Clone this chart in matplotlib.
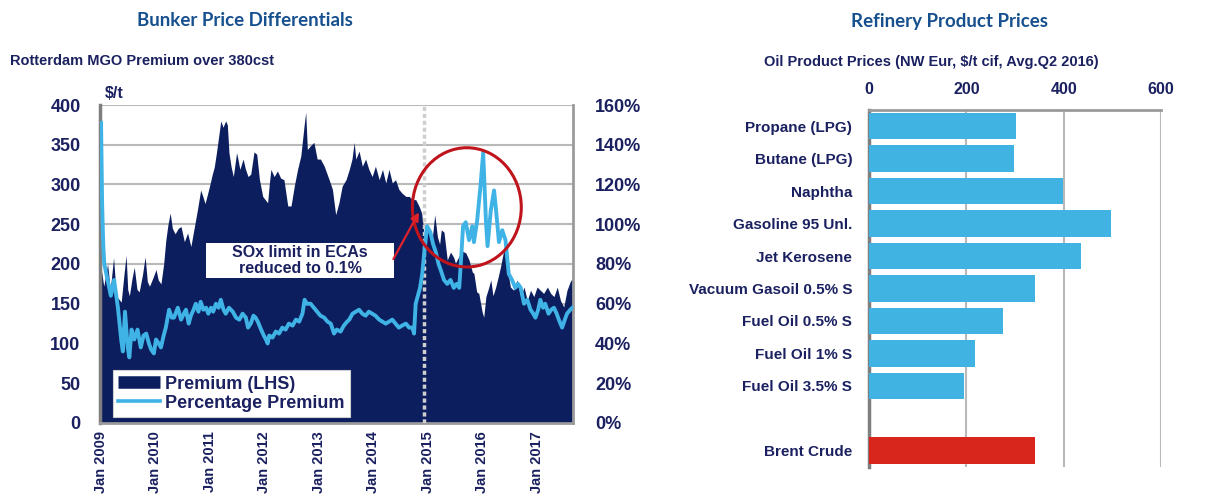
import matplotlib
matplotlib.use("Agg")
import matplotlib.pyplot as plt
from matplotlib.lines import Line2D
from matplotlib.patches import Ellipse, Rectangle

# Rotterdam MGO premium over 380cst, $/t (decimal year, value)
prem_years = [
    2009.00, 2009.05, 2009.12, 2009.17, 2009.23, 2009.28, 2009.37, 2009.42, 2009.46, 2009.49,
    2009.52, 2009.57, 2009.61, 2009.66, 2009.70, 2009.76, 2009.81, 2009.85, 2009.89, 2009.95,
    2010.01, 2010.05, 2010.10, 2010.15, 2010.19, 2010.23, 2010.27, 2010.31, 2010.36, 2010.42,
    2010.47, 2010.53, 2010.59, 2010.65, 2010.71, 2010.77, 2010.83, 2010.87, 2010.91, 2010.96,
    2011.00, 2011.04, 2011.08, 2011.12, 2011.16, 2011.20, 2011.24, 2011.29, 2011.32, 2011.35,
    2011.39, 2011.43, 2011.49, 2011.52, 2011.55, 2011.61, 2011.65, 2011.70, 2011.75, 2011.81,
    2011.86, 2011.91, 2011.97, 2012.06, 2012.09, 2012.12, 2012.18, 2012.24, 2012.30, 2012.36,
    2012.43, 2012.49, 2012.55, 2012.61, 2012.67, 2012.73, 2012.76, 2012.79, 2012.85, 2012.91,
    2012.97, 2013.03, 2013.10, 2013.19, 2013.25, 2013.31, 2013.37, 2013.43, 2013.50, 2013.56,
    2013.61, 2013.65, 2013.68, 2013.74, 2013.80, 2013.86, 2013.92, 2013.98, 2014.04, 2014.11,
    2014.17, 2014.23, 2014.29, 2014.35, 2014.41, 2014.47, 2014.53, 2014.60, 2014.66, 2014.72,
    2014.78, 2014.84, 2014.89, 2014.93, 2014.97, 2015.03, 2015.09, 2015.13, 2015.18, 2015.22,
    2015.25, 2015.30, 2015.36, 2015.42, 2015.48, 2015.51, 2015.57, 2015.64, 2015.70, 2015.76,
    2015.82, 2015.85, 2015.90, 2015.94, 2016.00, 2016.03, 2016.07, 2016.12, 2016.16, 2016.20,
    2016.25, 2016.30, 2016.34, 2016.40, 2016.45, 2016.48, 2016.52, 2016.58, 2016.64, 2016.71,
    2016.77, 2016.83, 2016.89, 2016.95, 2017.01, 2017.07, 2017.13, 2017.20, 2017.26, 2017.32,
    2017.38, 2017.44, 2017.50, 2017.56, 2017.62, 2017.66,
]
prem_values = [
    195, 172, 200, 168, 208, 160, 152, 186, 211, 168,
    160, 182, 196, 168, 165, 186, 209, 178, 172, 182,
    193, 180, 175, 200, 230, 250, 264, 245, 238, 245,
    247, 228, 239, 222, 245, 268, 293, 285, 276, 289,
    300, 312, 322, 340, 360, 380, 372, 380, 375, 340,
    322, 310, 340, 330, 319, 332, 320, 310, 313, 341,
    338, 306, 285, 277, 300, 319, 310, 317, 308, 306,
    273, 273, 298, 319, 336, 374, 391, 344, 349, 353,
    332, 332, 323, 306, 294, 262, 277, 298, 306, 319,
    332, 353, 332, 342, 323, 332, 319, 310, 323, 306,
    319, 302, 319, 302, 306, 294, 289, 285, 285, 281,
    281, 273, 264, 240, 243, 240, 236, 262, 234, 225,
    243, 240, 205, 215, 208, 201, 209, 216, 214, 205,
    190, 188, 165, 163, 140, 133, 159, 170, 180, 160,
    171, 185, 197, 218, 200, 188, 171, 167, 180, 159,
    171, 154, 167, 159, 171, 167, 163, 171, 163, 159,
    171, 154, 146, 167, 178, 182,
]

# Percentage premium, % (decimal year, value)
pct_years = [
    2009.00, 2009.02, 2009.04, 2009.06, 2009.12, 2009.18, 2009.24, 2009.31, 2009.37, 2009.40,
    2009.44, 2009.49, 2009.52, 2009.56, 2009.61, 2009.67, 2009.73, 2009.78, 2009.83, 2009.88,
    2009.92, 2009.97, 2010.01, 2010.06, 2010.10, 2010.15, 2010.19, 2010.25, 2010.30, 2010.34,
    2010.41, 2010.47, 2010.52, 2010.56, 2010.61, 2010.65, 2010.70, 2010.74, 2010.79, 2010.83,
    2010.88, 2010.93, 2010.97, 2011.02, 2011.06, 2011.11, 2011.16, 2011.20, 2011.25, 2011.29,
    2011.35, 2011.42, 2011.48, 2011.54, 2011.60, 2011.66, 2011.70, 2011.75, 2011.80, 2011.84,
    2011.88, 2011.94, 2011.99, 2012.03, 2012.06, 2012.09, 2012.15, 2012.21, 2012.27, 2012.33,
    2012.39, 2012.45, 2012.52, 2012.58, 2012.64, 2012.70, 2012.74, 2012.78, 2012.85, 2012.91,
    2012.97, 2013.03, 2013.10, 2013.16, 2013.22, 2013.28, 2013.33, 2013.40, 2013.46, 2013.52,
    2013.56, 2013.62, 2013.68, 2013.74, 2013.80, 2013.86, 2013.92, 2013.98, 2014.04, 2014.11,
    2014.17, 2014.23, 2014.29, 2014.35, 2014.41, 2014.47, 2014.53, 2014.60, 2014.66, 2014.72,
    2014.75, 2014.78, 2014.82, 2014.86, 2014.90, 2014.95, 2014.99, 2015.05, 2015.10, 2015.15,
    2015.20, 2015.24, 2015.30, 2015.36, 2015.42, 2015.48, 2015.53, 2015.58, 2015.62, 2015.65,
    2015.70, 2015.76, 2015.82, 2015.85, 2015.91, 2015.97, 2016.02, 2016.07, 2016.10, 2016.16,
    2016.22, 2016.26, 2016.31, 2016.37, 2016.43, 2016.49, 2016.55, 2016.61, 2016.66, 2016.71,
    2016.77, 2016.83, 2016.89, 2016.94, 2016.98, 2017.03, 2017.07, 2017.12, 2017.16, 2017.22,
    2017.27, 2017.32, 2017.37, 2017.41, 2017.47, 2017.52, 2017.56, 2017.62, 2017.66,
]
pct_values = [
    151, 110, 90, 80, 72, 64, 72, 58, 42, 36,
    56, 38, 33, 47, 42, 47, 38, 44, 45, 40,
    37, 35, 42, 40, 38, 44, 48, 57, 53, 53,
    58, 52, 55, 57, 50, 54, 57, 60, 56, 61,
    57, 58, 55, 58, 56, 60, 58, 62, 57, 55,
    58, 56, 53, 52, 55, 53, 48, 50, 54, 53,
    51, 47, 44, 42, 40, 44, 43, 46, 45, 48,
    47, 50, 49, 52, 51, 55, 62, 60, 60, 58,
    56, 54, 53, 51, 50, 45, 47, 46, 49, 51,
    52, 55, 56, 57, 55, 54, 56, 55, 54, 52,
    51, 50, 51, 52, 50, 48, 49, 50, 48, 48,
    45, 60, 64, 68, 75, 89, 99, 96, 90, 86,
    80, 77, 72, 70, 72, 68, 70, 68, 85, 99,
    101, 92, 99, 91, 102, 119, 136, 102, 89, 107,
    117, 106, 91, 97, 92, 75, 72, 68, 70, 68,
    60, 62, 57, 55, 53, 57, 62, 58, 60, 55,
    57, 58, 55, 52, 48, 52, 55, 57, 58,
]

year_ticks = [2009, 2010, 2011, 2012, 2013, 2014, 2015, 2016, 2017]
year_labels = [f"Jan {y}" for y in year_ticks]
sox_change = 2014.93

# NW Europe oil product prices, $/t cif, Q2 2016 average
products = [
    "Propane (LPG)", "Butane (LPG)", "Naphtha", "Gasoline 95 Unl.", "Jet Kerosene",
    "Vacuum Gasoil 0.5% S", "Fuel Oil 0.5% S", "Fuel Oil 1% S", "Fuel Oil 3.5% S",
]
product_prices = [302, 298, 399, 497, 435, 341, 275, 218, 195]
brent_label = "Brent Crude"
brent_price = 341

NAVY = "#0c1e5e"
TEXT = "#1b2160"
LIGHT = "#3fb3e6"
GRID = "#b9b9b9"
BOLD = dict(family=["Liberation Sans", "DejaVu Sans"], weight="bold", color=TEXT)

fig = plt.figure(figsize=(12.22, 4.96), dpi=100)

# ---- left panel: MGO premium --------------------------------------------
ax = fig.add_axes([0.0818, 0.1472, 0.3871, 0.6411])
ax.fill_between(prem_years, prem_values, 0, color=NAVY, lw=0, zorder=2)
ax.axvline(sox_change, color="#cfcfcf", lw=2.5, ls=(0, (1.2, 0.8)), zorder=3)
ax.set_xlim(2008.98, 2017.67)
ax.set_ylim(0, 400)
ax.set_yticks(range(0, 401, 50))
ax.yaxis.grid(True, color=GRID, lw=1.5, zorder=1)
ax.set_axisbelow(True)
ax.set_xticks(year_ticks)
ax.set_xticklabels(year_labels, rotation=90, fontsize=10.5, **BOLD)
for lbl in ax.get_yticklabels():
    lbl.set(fontsize=13, **BOLD)
ax.tick_params(axis="y", length=0, pad=14)
ax.tick_params(axis="x", length=0, pad=6)
ax.spines["left"].set(color="#7f7f7f", lw=2.5)
ax.spines["bottom"].set(color="#9a9a9a", lw=2)
ax.spines["right"].set(color="#9a9a9a", lw=2)
ax.spines["top"].set_visible(False)
ax.text(0.01, 1.012, "$/t", transform=ax.transAxes, fontsize=11.5, va="bottom", **BOLD)

ax2 = ax.twinx()
ax2.plot(pct_years, pct_values, color=LIGHT, lw=2.8, zorder=4)
ax2.set_ylim(0, 160)
ax2.set_yticks(range(0, 161, 20))
ax2.set_yticklabels([f"{v}%" for v in range(0, 161, 20)])
for lbl in ax2.get_yticklabels():
    lbl.set(fontsize=13, **BOLD)
ax2.tick_params(axis="y", length=0, pad=16)
for side in ("top", "left", "bottom", "right"):
    ax2.spines[side].set_visible(False)

# the red ring round the 2015-16 jump in the percentage premium
ax2.add_patch(Ellipse((2015.72, 108.5), 2.0, 60, fill=False, ec="#c0141c", lw=2.2, zorder=6))

# SOx note: white box with a red arrow pointing at the Jan 2015 change
ax2.add_patch(Rectangle((0.224, 0.456), 0.398, 0.110, transform=ax2.transAxes,
                        fc="white", ec="none", zorder=6))
ax2.text(0.423, 0.511, "SOx limit in ECAs\nreduced to 0.1%", transform=ax2.transAxes,
         ha="center", va="center", fontsize=11.5, linespacing=1.05, zorder=7, **BOLD)
ax2.annotate("", xy=(2014.84, 106), xytext=(2014.37, 82.5), zorder=7,
             arrowprops=dict(arrowstyle="-|>", color="#e0222a", lw=1.6,
                             mutation_scale=12, shrinkA=0, shrinkB=0))

handles = [Line2D([], [], color=NAVY, lw=9, solid_capstyle="butt"),
           Line2D([], [], color=LIGHT, lw=2.6)]
leg = ax2.legend(handles, ["Premium (LHS)", "Percentage Premium"],
                 loc="lower left", bbox_to_anchor=(0.027, 0.019), borderaxespad=0,
                 frameon=True, fancybox=False, handlelength=2.3, handletextpad=0.3,
                 borderpad=0.3, labelspacing=0.1,
                 prop=dict(family=["Liberation Sans", "DejaVu Sans"], weight="bold", size=13))
leg.get_frame().set(facecolor="white", edgecolor="#d0d0d0", lw=0.8, alpha=1)
leg.set_zorder(8)
for t in leg.get_texts():
    t.set_color(TEXT)

fig.text(0.2005, 0.958, "Bunker Price Differentials", ha="center", va="center",
         fontsize=13.5, family=["Lato", "DejaVu Sans"], weight="bold", color="#17508f")
fig.text(0.008, 0.877, "Rotterdam MGO Premium over 380cst", ha="left", va="center",
         fontsize=10.5, family=["Liberation Sans Narrow", "Liberation Sans"],
         weight="bold", color=TEXT)

# ---- right panel: product prices ----------------------------------------
ax3 = fig.add_axes([0.7111, 0.0585, 0.2390, 0.7198])
positions = list(range(len(products)))
brent_pos = len(products) + 1
ax3.barh(positions, product_prices, height=0.82, color="#41b3e3", zorder=3)
ax3.barh([brent_pos], [brent_price], height=0.82, color="#d8261d", zorder=3)
ax3.set_ylim(brent_pos + 0.5, -0.5)
ax3.set_xlim(0, 600)
ax3.set_yticks(positions + [brent_pos])
ax3.set_yticklabels(products + [brent_label])
for lbl in ax3.get_yticklabels():
    lbl.set(fontsize=11, **BOLD)
ax3.xaxis.tick_top()
ax3.set_xticks([0, 200, 400, 600])
for lbl in ax3.get_xticklabels():
    lbl.set(fontsize=11.5, **BOLD)
ax3.tick_params(axis="x", length=0, pad=9)
ax3.tick_params(axis="y", length=0, pad=12)
ax3.xaxis.grid(True, color=GRID, lw=1.5, zorder=0)
ax3.set_axisbelow(True)
ax3.spines["left"].set(color="#7f7f7f", lw=2.5)
ax3.spines["top"].set(color="#9a9a9a", lw=2)
ax3.spines["bottom"].set_visible(False)
ax3.spines["right"].set_visible(False)

fig.text(0.777, 0.956, "Refinery Product Prices", ha="center", va="center",
         fontsize=13.5, family=["Lato", "DejaVu Sans"], weight="bold", color="#17508f")
fig.text(0.762, 0.875, "Oil Product Prices (NW Eur, $/t cif, Avg.Q2 2016)", ha="center",
         va="center", fontsize=10.5, **BOLD)

fig.savefig("out.png", dpi=100)
